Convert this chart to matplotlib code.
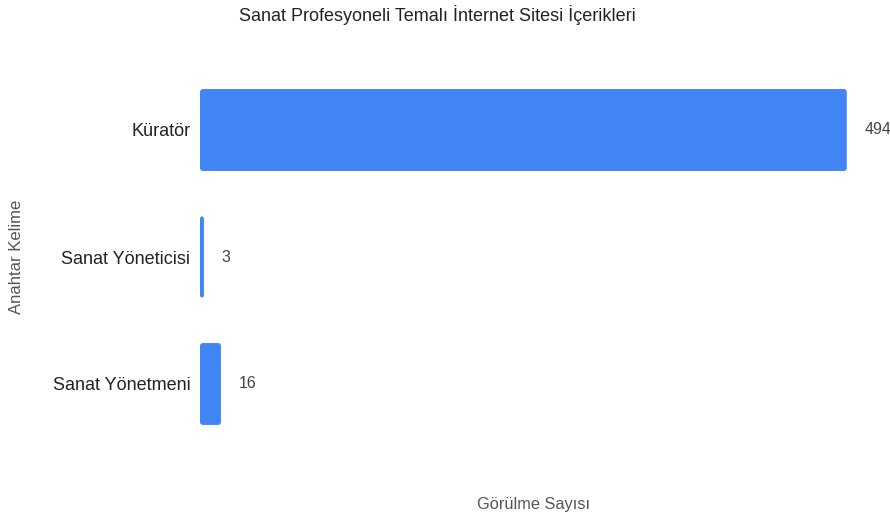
import matplotlib.pyplot as plt
from matplotlib.patches import FancyBboxPatch

plt.rcParams['font.family'] = ['Liberation Sans', 'DejaVu Sans']

keywords = ['Küratör', 'Sanat Yöneticisi', 'Sanat Yönetmeni']
views = [494, 3, 16]

W, H = 890, 517
fig = plt.figure(figsize=(W / 100, H / 100), dpi=100)
ax = fig.add_axes([200 / W, 1 - 447.5 / H, 690 / W, 381 / H])

bar_color = '#4285f4'
bar_h = 0.645
for i, v in enumerate(views):
    patch = FancyBboxPatch((0, i - bar_h / 2), v, bar_h,
                           boxstyle='round,pad=0,rounding_size=2.5',
                           mutation_aspect=1 / 127 * 1.31,
                           facecolor=bar_color, edgecolor='none')
    ax.add_patch(patch)
    ax.annotate(str(v), (v, i), xytext=(12.5, 0), textcoords='offset points',
                va='center', ha='left', fontsize=11.5, color='#444444')

ax.set_xlim(0, 527)
ax.set_ylim(len(keywords) - 0.5, -0.5)
ax.set_yticks(range(len(keywords)))
ax.set_yticklabels(keywords, fontsize=13, color='#222222')
ax.set_xticks([])
ax.tick_params(axis='y', length=0, pad=7)
for s in ax.spines.values():
    s.set_visible(False)

fig.text(437 / W, 1 - 15 / H, 'Sanat Profesyoneli Temalı İnternet Sitesi İçerikleri',
         ha='center', va='center', fontsize=13, color='#222222')
fig.text(534 / W, 1 - 505 / H, 'Görülme Sayısı', ha='center', va='center',
         fontsize=11.8, color='#555555')
fig.text(17 / W, 1 - 257 / H, 'Anahtar Kelime', ha='center', va='center',
         rotation=90, fontsize=12, color='#555555')

fig.savefig('out.png', dpi=100)
